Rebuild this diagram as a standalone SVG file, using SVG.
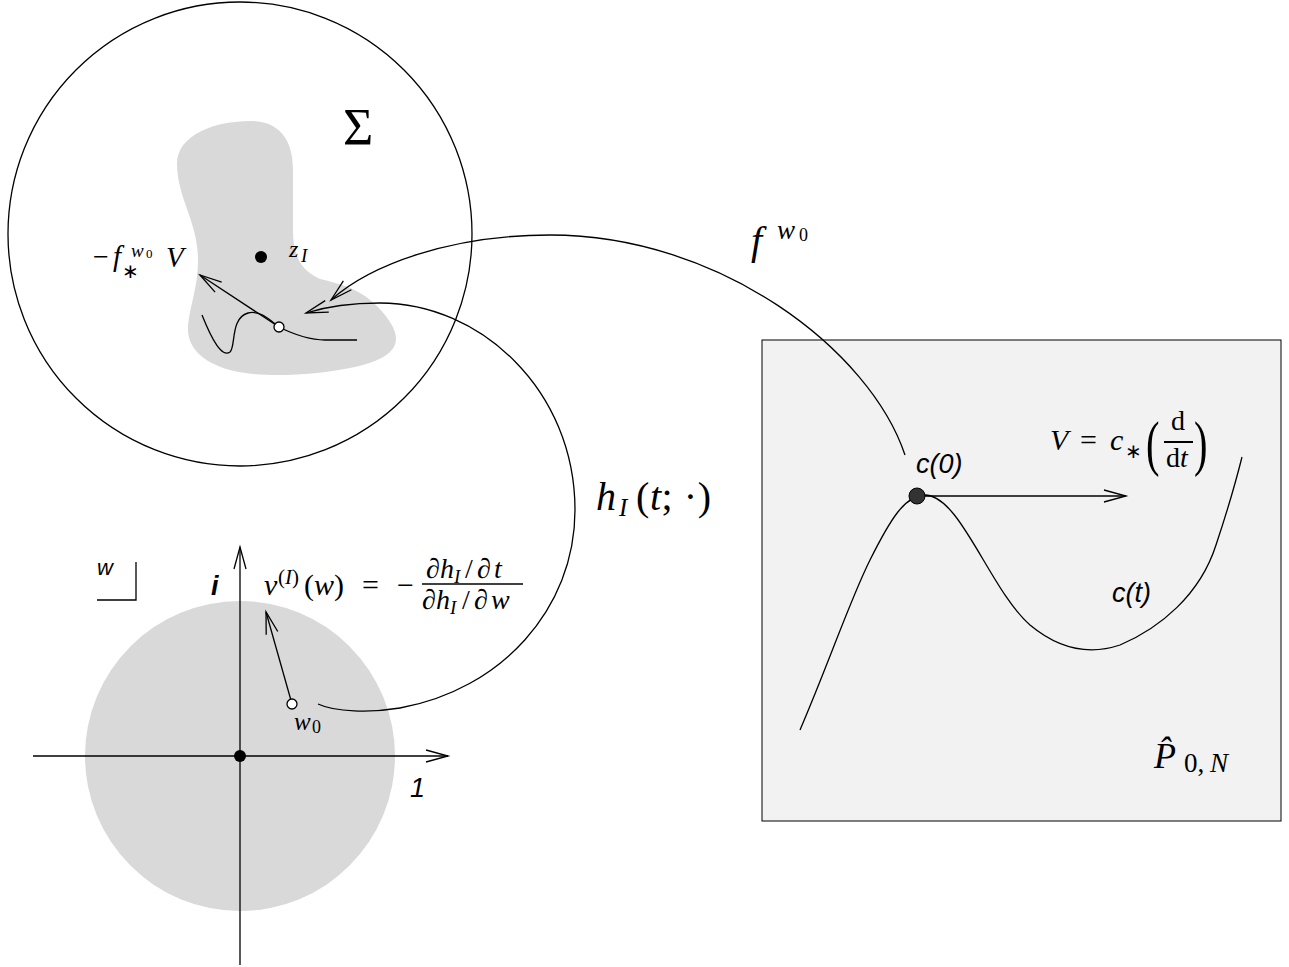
<svg xmlns="http://www.w3.org/2000/svg" width="1289" height="967" viewBox="0 0 1289 967">
<style>
.ln{fill:none;stroke:#000;stroke-width:1.3}
.m{font-family:"Liberation Serif",serif;font-style:normal;fill:#000}
.mi{font-family:"Liberation Serif",serif;font-style:italic;fill:#000}
.s{font-family:"Liberation Sans",sans-serif;font-style:italic;fill:#000}
.open{fill:#fff;stroke:#000;stroke-width:1.3}
</style>
<defs>
<marker id="ah" markerUnits="userSpaceOnUse" viewBox="-25 -10 30 20" refX="0" refY="0" markerWidth="30" markerHeight="20" orient="auto">
<path d="M-22,-6 L0,0 L-22,6" fill="none" stroke="#000" stroke-width="1.3"/>
</marker>
</defs>
<rect width="1289" height="967" fill="#fff"/>

<g id="sigma">
<circle cx="240" cy="234" r="232" class="ln"/>
<path d="M250,121 C275,121 293,135 293,170 L293,230 C293,255 300,270 320,279 C345,285 365,290 385,315 C405,340 400,358 350,368 C310,376 260,378 230,370 C200,362 188,345 188,330 C188,310 198,290 198,260 C198,222 178,200 177,165 C176,135 215,121 250,121 Z" fill="#d9d9d9"/>
<path d="M202,315 C212,340 222,358 230,352 C236,347 230,318 248,313 C260,310 270,320 279,327 C295,335 310,340 325,340 L357,340" class="ln"/>
<line x1="279" y1="327" x2="200" y2="275" class="ln" marker-end="url(#ah)"/>
<circle cx="261" cy="257" r="6" fill="#000"/>
<circle cx="279" cy="327" r="5" class="open"/>
<text x="343" y="145" class="m" font-size="52">Σ</text>
<text x="289" y="257" class="mi" font-size="24">z</text>
<text x="301" y="262" class="mi" font-size="19">I</text>
<text x="93" y="266" class="m" font-size="28">−</text>
<text x="113" y="266" class="mi" font-size="29">f</text>
<text x="131" y="257" class="mi" font-size="19">w</text>
<text x="146" y="258" class="m" font-size="13">0</text>
<text x="122" y="278" class="m" font-size="20">∗</text>
<text x="166" y="267" class="mi" font-size="29">V</text>
</g>

<g id="disc">
<circle cx="240" cy="756" r="155" fill="#d9d9d9"/>
<line x1="33" y1="756" x2="448" y2="756" class="ln" marker-end="url(#ah)"/>
<line x1="240" y1="965" x2="240" y2="547" class="ln" marker-end="url(#ah)"/>
<circle cx="240" cy="756" r="6" fill="#000"/>
<line x1="292" y1="704" x2="266" y2="612" class="ln" marker-end="url(#ah)"/>
<circle cx="292" cy="704" r="5" class="open"/>
<text x="294" y="730" class="mi" font-size="25">w</text>
<text x="312" y="733" class="m" font-size="18">0</text>
<text x="211" y="595" class="s" font-size="27" font-weight="bold">i</text>
<text x="410" y="797" class="s" font-size="27">1</text>
<text x="97" y="575" class="s" font-size="22">w</text>
<path d="M136,562 L136,600 L97,600" class="ln"/>
<text x="264" y="595" class="mi" font-size="30">v</text>
<text x="278" y="584" class="m" font-size="21">(<tspan class="mi">I</tspan>)</text>
<text x="304" y="595" class="m" font-size="30">(<tspan class="mi">w</tspan>)</text>
<text x="362" y="595" class="m" font-size="30">=</text>
<text x="397" y="595" class="m" font-size="30">−</text>
<line x1="422" y1="584" x2="523" y2="584" stroke="#000" stroke-width="1.4"/>
<text y="578" class="mi" font-size="28"><tspan x="426">∂</tspan><tspan x="440">h</tspan><tspan x="454" font-size="19" dy="5">I</tspan><tspan x="465" dy="-5" class="m">/</tspan><tspan x="477">∂</tspan><tspan x="494">t</tspan></text>
<text y="609" class="mi" font-size="28"><tspan x="422">∂</tspan><tspan x="436">h</tspan><tspan x="450" font-size="19" dy="5">I</tspan><tspan x="462" dy="-5" class="m">/</tspan><tspan x="474">∂</tspan><tspan x="491">w</tspan></text>
</g>

<g id="path-space">
<rect x="762" y="340" width="519" height="481" fill="#f2f2f2" stroke="#000" stroke-width="1"/>
<path d="M800,730 C830,660 850,600 870,560 C890,520 905,495 925,495 C960,495 990,590 1030,625 C1060,650 1090,655 1120,645 C1160,628 1200,595 1216,545 C1226,515 1235,485 1242,457" class="ln"/>
<line x1="917" y1="496" x2="1126" y2="496" class="ln" marker-end="url(#ah)"/>
<circle cx="917" cy="496" r="8" fill="#333" stroke="#000" stroke-width="1"/>
<text x="916" y="473" class="s" font-size="27">c(0)</text>
<text x="1112" y="602" class="s" font-size="27">c(t)</text>
<text x="1050" y="450" class="mi" font-size="30">V</text>
<text x="1080" y="450" class="m" font-size="30">=</text>
<text x="1110" y="450" class="mi" font-size="30">c</text>
<text x="1125" y="458" class="m" font-size="20">∗</text>
<text x="1146" y="464" class="m" font-size="54" transform="translate(1146,464) scale(0.75,1.15) translate(-1146,-464)">(</text>
<text x="1194" y="464" class="m" font-size="54" transform="translate(1194,464) scale(0.75,1.15) translate(-1194,-464)">)</text>
<text x="1171" y="430" class="m" font-size="28">d</text>
<line x1="1164" y1="442" x2="1193" y2="442" stroke="#000" stroke-width="2"/>
<text x="1166" y="467" class="m" font-size="28">d<tspan class="mi">t</tspan></text>
<text x="1154" y="768" class="mi" font-size="36">P̂<tspan x="1184" y="772" class="m" font-size="27">0,</tspan><tspan x="1210" y="772" font-size="27">N</tspan></text>
</g>

<g id="connectors">
<path d="M905,455 C870,350 720,235 550,235 C450,235 370,265 331,300" class="ln" marker-end="url(#ah)"/>
<path d="M318,704 C335,712 370,713 400,708 C500,690 575,610 575,510 C575,390 480,303 380,303 C350,303 325,307 306,313" class="ln" marker-end="url(#ah)"/>
<text x="751" y="254" class="mi" font-size="40">f</text>
<text x="777" y="239" class="mi" font-size="27">w</text>
<text x="799" y="241" class="m" font-size="18">0</text>
<text x="596" y="510" class="mi" font-size="40">h</text>
<text x="619" y="516" class="mi" font-size="25">I</text>
<text x="636" y="510" class="m" font-size="40" textLength="75" lengthAdjust="spacing">(<tspan class="mi">t</tspan>; ·)</text>
</g>
</svg>
